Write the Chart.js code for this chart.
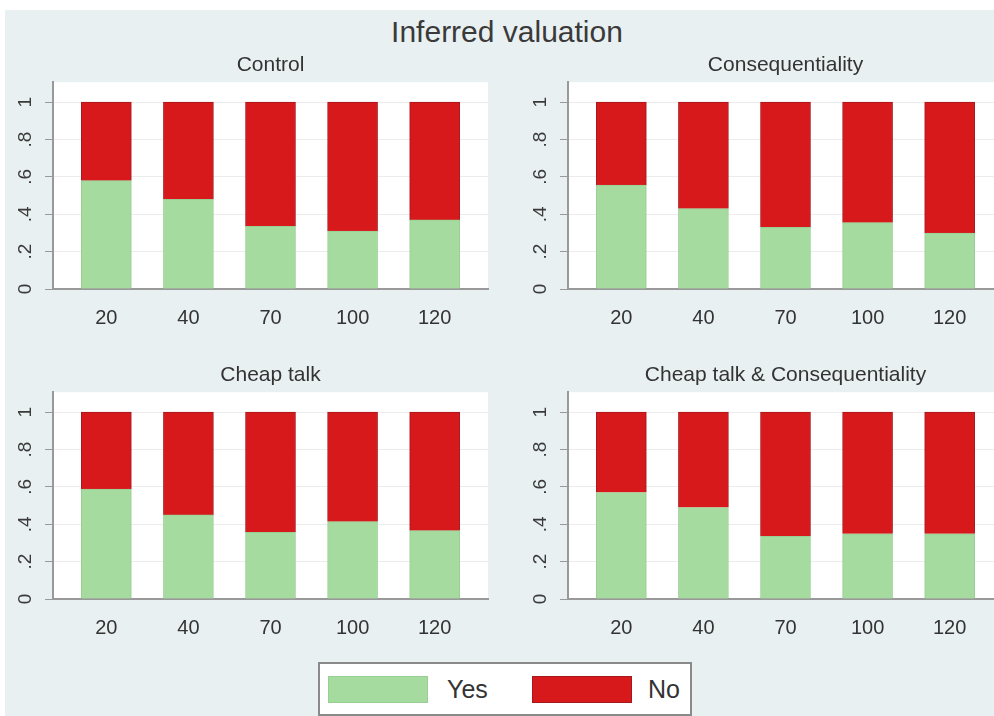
<!DOCTYPE html>
<html>
<head>
<meta charset="utf-8">
<script src="https://cdn.jsdelivr.net/npm/chart.js@4"></script>
<style>
  html, body { margin: 0; padding: 0; }
  body { width: 994px; height: 716px; overflow: hidden; position: relative; background: #fff; font-family: 'Liberation Sans', Arial, sans-serif; }
  #bg { position: absolute; left: 5px; top: 10px; right: 0; bottom: 0; background: #e9f0f2; }
  #mainTitle { position: absolute; left: 5px; width: 1004px; top: 15px; text-align: center; font-size: 30px; color: #3a3a3a; }
  canvas { position: absolute; }
  #legend { position: absolute; left: 318px; top: 662px; width: 370px; height: 50px; background: #fff; border: 2px solid #8a8a8a; }
  .sw { position: absolute; top: 12px; width: 100px; height: 27px; box-sizing: border-box; }
  .lbl { position: absolute; top: 10px; font-size: 25px; color: #333; line-height: 30px; }
</style>
</head>
<body>
<div id="bg"></div>
<div id="mainTitle">Inferred valuation</div>
<canvas id="c1" width="497" height="290" style="left:0px;top:50px"></canvas>
<canvas id="c2" width="497" height="290" style="left:515px;top:50px"></canvas>
<canvas id="c3" width="497" height="290" style="left:0px;top:360px"></canvas>
<canvas id="c4" width="497" height="290" style="left:515px;top:360px"></canvas>
<div id="legend">
  <div class="sw" id="swYes" style="left:8px"></div>
  <div class="lbl" style="left:127px">Yes</div>
  <div class="sw" id="swNo" style="left:212px"></div>
  <div class="lbl" style="left:328px">No</div>
</div>
<script>
// bid amounts on the x axis
const bids = ['20', '40', '70', '100', '120'];
const yTicks = [0, 0.2, 0.4, 0.6, 0.8, 1];
const yTickLabels = ['0', '.2', '.4', '.6', '.8', '1'];

// share answering yes / no per bid
const yesControl = [0.58, 0.48, 0.335, 0.31, 0.37];
const noControl  = [0.42, 0.52, 0.665, 0.69, 0.63];
const yesConseq  = [0.556, 0.43, 0.33, 0.355, 0.30];
const noConseq   = [0.444, 0.57, 0.67, 0.645, 0.70];
const yesCheap   = [0.588, 0.45, 0.357, 0.414, 0.366];
const noCheap    = [0.412, 0.55, 0.643, 0.586, 0.634];
const yesBoth    = [0.57, 0.49, 0.336, 0.349, 0.349];
const noBoth     = [0.43, 0.51, 0.664, 0.651, 0.651];

const green = '#a6dba0';
const red = '#d7191c';

document.getElementById('swYes').style.cssText += ';background:' + green + ';border:1px solid #98cf92';
document.getElementById('swNo').style.cssText += ';background:' + red + ';border:1px solid #a5181b';

Chart.defaults.font.family = "'Liberation Sans', Arial, sans-serif";
Chart.defaults.color = '#333';

// white plot region like stata
const plotBg = {
    id: 'plotBg',
    beforeDraw(chart) {
        const a = chart.chartArea;
        const ctx = chart.ctx;
        ctx.save();
        ctx.fillStyle = '#ffffff';
        ctx.fillRect(a.left, a.top, a.right - a.left, a.bottom - a.top);
        ctx.restore();
    }
};

function panel(id, title, yes, no) {
    new Chart(document.getElementById(id), {
        type: 'bar',
        data: {
            datasets: [
                {
                    label: 'Yes',
                    data: yes.map((v, i) => ({ x: i, y: v })),
                    backgroundColor: green,
                    borderColor: '#98cf92',
                    borderWidth: 1,
                    barThickness: 50,
                },
                {
                    label: 'No',
                    data: no.map((v, i) => ({ x: i, y: v })),
                    backgroundColor: red,
                    borderColor: '#a5181b',
                    borderWidth: 1,
                    barThickness: 50,
                }
            ]
        },
        options: {
            responsive: false,
            animation: false,
            layout: { padding: { left: 0, right: 9, top: 0, bottom: 0 } },
            scales: {
                x: {
                    type: 'linear',
                    stacked: true,
                    offset: false,
                    min: -0.65,
                    max: 4.65,
                    z: 1,
                    afterBuildTicks: s => { s.ticks = bids.map((b, i) => ({ value: i })); },
                    afterFit: s => { s.height = 51; },
                    ticks: {
                        callback: v => bids[v],
                        font: { size: 20 },
                        color: '#333',
                        padding: 9,
                        maxRotation: 0,
                    },
                    grid: { display: false },
                    border: { display: true, color: '#999', width: 2 },
                },
                y: {
                    stacked: true,
                    min: 0,
                    max: 1.107,
                    afterBuildTicks: s => { s.ticks = yTicks.map(v => ({ value: v })); },
                    afterFit: s => { s.width = 53; },
                    ticks: {
                        callback: (v, i) => yTickLabels[i],
                        font: { size: 19 },
                        color: '#3a3a3a',
                        minRotation: 90,
                        maxRotation: 90,
                        crossAlign: 'center',
                        padding: 11,
                    },
                    grid: { color: '#ececec', tickColor: '#999', tickLength: 8, lineWidth: 1 },
                    border: { display: true, color: '#999', width: 2 },
                }
            },
            plugins: {
                legend: { display: false },
                tooltip: { enabled: false },
                title: {
                    display: true,
                    text: title,
                    fullSize: false,
                    color: '#333',
                    font: { size: 21, weight: 'normal' },
                    padding: { top: 3, bottom: 4 },
                }
            }
        },
        plugins: [plotBg]
    });
}

panel('c1', 'Control', yesControl, noControl);
panel('c2', 'Consequentiality', yesConseq, noConseq);
panel('c3', 'Cheap talk', yesCheap, noCheap);
panel('c4', 'Cheap talk & Consequentiality', yesBoth, noBoth);
</script>
</body>
</html>
